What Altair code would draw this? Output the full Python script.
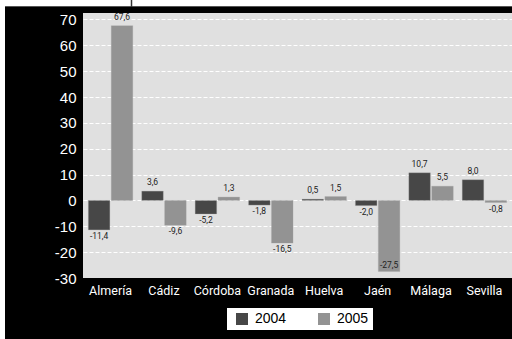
import altair as alt
import pandas as pd

# Provinces of Andalucía and the yearly change (%) for each of them
provinces = ["Almería", "Cádiz", "Córdoba", "Granada", "Huelva", "Jaén", "Málaga", "Sevilla"]
years = ["2004", "2005"]
change_2004 = [-11.4, 3.6, -5.2, -1.8, 0.5, -2.0, 10.7, 8.0]
change_2005 = [67.6, -9.6, 1.3, -16.5, 1.5, -27.5, 5.5, -0.8]
y_ticks = [-30, -20, -10, 0, 10, 20, 30, 40, 50, 60, 70]

rows = []
for p, a, b in zip(provinces, change_2004, change_2005):
    rows.append({"provincia": p, "year": years[0], "value": a})
    rows.append({"provincia": p, "year": years[1], "value": b})
df = pd.DataFrame(rows)

NARROW = "Roboto, sans-serif"
SANS = "Liberation Sans, Arial, sans-serif"

W, H = 429, 265

x_enc = alt.X(
    "provincia:N",
    sort=provinces,
    scale=alt.Scale(paddingInner=0.168, paddingOuter=0.1),
    axis=alt.Axis(
        title=None, labelAngle=0, ticks=False, domain=False,
        labelColor="white", labelFont=NARROW, labelFontSize=12.5,
        labelPadding=6, grid=False,
    ),
)
xoff_enc = alt.XOffset("year:N", scale=alt.Scale(paddingInner=0.06, paddingOuter=0))
y_enc = alt.Y(
    "value:Q",
    scale=alt.Scale(domain=[-30, 72.5], nice=False, zero=True),
    axis=alt.Axis(
        title=None, values=y_ticks, ticks=False, domain=False,
        labelExpr="'' + datum.value",
        labelColor="white", labelFont=SANS, labelFontSize=15, labelPadding=7,
        grid=True, gridColor="white", gridDash=[4, 2], gridWidth=1,
        gridOpacity=alt.condition("datum.value == -30", alt.value(0), alt.value(1)),
    ),
)

base = alt.Chart(df).encode(x=x_enc, xOffset=xoff_enc, y=y_enc)

bars = base.mark_bar(stroke="#a6a6a6", strokeWidth=0.6, strokeOpacity=0.5).encode(
    color=alt.Color(
        "year:N",
        scale=alt.Scale(domain=years, range=["#474747", "#939393"]),
        legend=alt.Legend(
            title=None, orient="none", legendX=144, legendY=295,
            direction="horizontal", fillColor="white", padding=4,
            symbolType="square", symbolSize=144, symbolStrokeWidth=0,
            symbolOffset=4, labelFont=SANS, labelFontSize=14,
            labelColor="black", labelOffset=6, columnPadding=26,
        ),
    )
)

label_expr = "(datum.value < 0 ? '-' : '') + replace(format(abs(datum.value), '.1f'), '.', ',')"
text_style = dict(font=NARROW, fontSize=8.5, color="#222222")

# Positive values: label above the bar end
pos_labels = base.transform_filter("datum.value >= 0").transform_calculate(
    lab=label_expr
).mark_text(baseline="bottom", dy=-4, **text_style).encode(text="lab:N")
# Negative values: label below the bar end
neg_labels = base.transform_filter("datum.value < 0 && datum.value > -25").transform_calculate(
    lab=label_expr
).mark_text(baseline="top", dy=2, **text_style).encode(text="lab:N")
# Bars reaching the bottom of the axis: label just inside the bar end
deep_labels = base.transform_filter("datum.value <= -25").transform_calculate(
    lab=label_expr
).mark_text(baseline="bottom", dy=-2, **text_style).encode(text="lab:N")

# White margins along the top and left edges, with the thin border lines
frame_data = alt.Data(values=[{}])
top_strip = alt.Chart(frame_data).mark_rect(color="white").encode(
    x=alt.value(-83), x2=alt.value(W), y=alt.value(-13), y2=alt.value(-7)
)
left_strip = alt.Chart(frame_data).mark_rect(color="white").encode(
    x=alt.value(-83), x2=alt.value(-78), y=alt.value(-13), y2=alt.value(H + 61)
)
top_line = alt.Chart(frame_data).mark_rule(color="#555555", strokeWidth=1).encode(
    x=alt.value(-78), x2=alt.value(W), y=alt.value(-6.5)
)
marker = alt.Chart(frame_data).mark_rule(color="#333333", strokeWidth=1.5).encode(
    x=alt.value(48.5), y=alt.value(-13), y2=alt.value(-6)
)

chart = alt.layer(
    bars, pos_labels, neg_labels, deep_labels, top_strip, left_strip, top_line, marker
).properties(
    width=W, height=H,
    autosize=alt.AutoSizeParams(type="none"),
    padding={"left": 83, "top": 13, "right": 0, "bottom": 61},
    background="black",
).configure_view(
    fill="#e0e0e0", stroke=None
)

chart.save("out.html", embed_options={"renderer": "svg", "actions": False})
